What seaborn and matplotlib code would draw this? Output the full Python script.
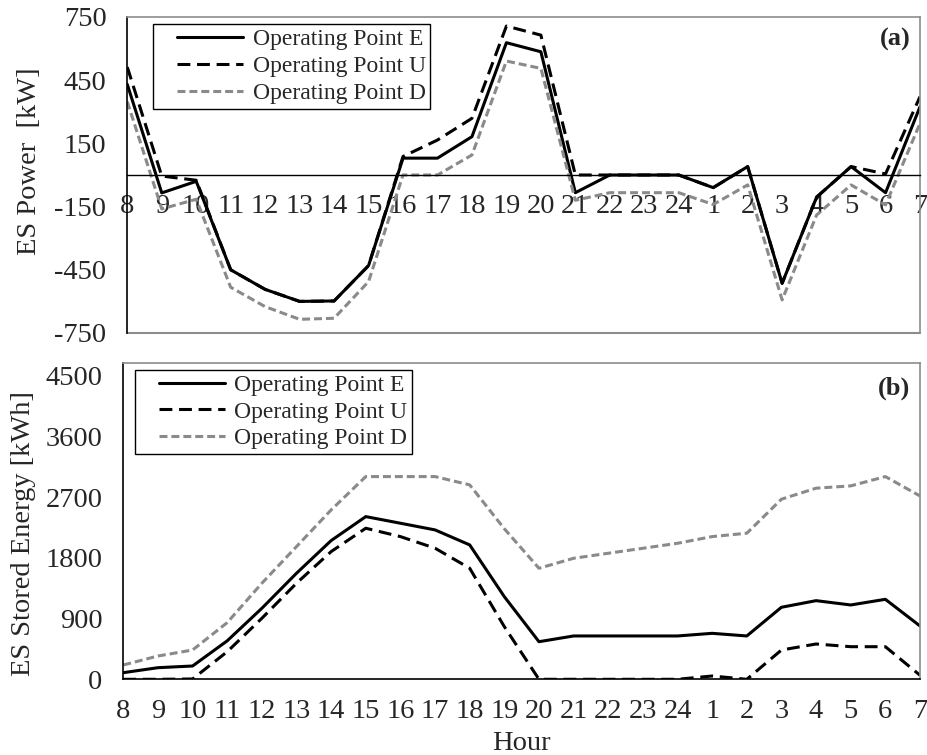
import matplotlib
matplotlib.use("Agg")
import matplotlib.pyplot as plt
from matplotlib.legend_handler import HandlerLine2D
import seaborn as sns
import pandas as pd
import numpy as np

hours = ["8", "9", "10", "11", "12", "13", "14", "15", "16", "17", "18", "19",
         "20", "21", "22", "23", "24", "1", "2", "3", "4", "5", "6", "7"]

# ES power [kW]
power_e = [430, -85, -30, -450, -543, -600, -598, -430, 80, 80, 182, 628,
           585, -84, 0, 0, 0, -60, 40, -514, -105, 40, -84, 324]
power_u = [512, -5, -25, -450, -543, -600, -598, -430, 88, 166, 269, 707,
           664, 0, 0, 0, 0, -60, 40, -514, -105, 40, 5, 372]
power_d = [348, -161, -115, -533, -625, -685, -680, -506, 0, 0, 95, 541,
           506, -120, -84, -84, -84, -140, -47, -593, -190, -47, -142, 245]

# ES stored energy [kWh]
energy_e = [98, 172, 197, 570, 1052, 1571, 2055, 2410, 2312, 2213, 1991, 1224,
            557, 642, 642, 642, 642, 681, 642, 1067, 1165, 1101, 1185, 790]
energy_u = [0, 0, 5, 409, 904, 1423, 1892, 2238, 2114, 1942, 1645, 780,
            0, 0, 0, 0, 0, 49, 0, 434, 523, 483, 483, 60]
energy_d = [212, 345, 434, 840, 1423, 1966, 2509, 3003, 3003, 3003, 2880, 2230,
            1645, 1793, 1867, 1941, 2015, 2114, 2164, 2668, 2831, 2865, 3003, 2716]

names = ["Operating Point E", "Operating Point U", "Operating Point D"]

sns.set_style("white")
plt.rcParams["font.family"] = ["Liberation Serif", "DejaVu Serif"]
plt.rcParams["axes.unicode_minus"] = False

frame_gray = "#8c8c8c"
line_gray = "#8a8a8a"
palette = {names[0]: "black", names[1]: "black", names[2]: line_gray}
dashes = {names[0]: "", names[1]: (4.2, 2.2), names[2]: (2.6, 1.3)}

pos = np.arange(len(hours))


def long_form(series):
    frames = []
    for name, vals in zip(names, series):
        frames.append(pd.DataFrame({"pos": pos, "value": vals, "series": name}))
    return pd.concat(frames, ignore_index=True)


fig = plt.figure(figsize=(9.28, 7.55), dpi=100)
ax1 = fig.add_axes([127.3 / 928, 1 - 333 / 755, 792.7 / 928, 316 / 755])
ax2 = fig.add_axes([123.3 / 928, 1 - 679.3 / 755, 796.7 / 928, 316.6 / 755])

for ax, df, anchor in [(ax1, long_form([power_e, power_u, power_d]), (0.024, 1.0)),
                       (ax2, long_form([energy_e, energy_u, energy_d]), (0.006, 1.0))]:
    sns.lineplot(data=df, x="pos", y="value", hue="series", style="series",
                 palette=palette, dashes=dashes, linewidth=2.2, ax=ax,
                 legend=True)
    ax.set_xlim(0, 23)
    ax.set_xticks(pos)
    ax.set_xticklabels(hours)
    ax.tick_params(axis="x", direction="out", length=7, width=1, color="black",
                   labelsize=20.5, pad=7)
    ax.tick_params(axis="y", length=0, labelsize=20.5, pad=15)
    ax.set_xlabel("")
    for s in ["top", "right"]:
        ax.spines[s].set_color(frame_gray)
        ax.spines[s].set_linewidth(1.2)
    ax.spines["left"].set_color("black")
    ax.spines["left"].set_linewidth(1.2)
    handles, labels = ax.get_legend_handles_labels()
    ax.legend(handles, labels, loc="upper left", bbox_to_anchor=anchor,
              fontsize=17, frameon=True, fancybox=False, edgecolor="black",
              framealpha=1, handlelength=3.6, borderpad=0.2, labelspacing=0.22,
              handletextpad=0.4, borderaxespad=0.3,
              handler_map={h: HandlerLine2D(xpad=0.82) for h in handles})
    ax.get_legend().get_frame().set_linewidth(1.0)

# top panel: power
ax1.set_ylim(-750, 750)
ax1.set_yticks([-750, -450, -150, 150, 450, 750])
ax1.spines["bottom"].set_position(("data", 0))
ax1.spines["bottom"].set_color("black")
ax1.spines["bottom"].set_linewidth(1.0)
ax1.axhline(-750, color=frame_gray, linewidth=1.5, clip_on=False)
ax1.set_ylabel("ES Power  [kW]", fontsize=20.5)
ax1.yaxis.set_label_coords(-0.107, 0.544)
ax1.text(0.988, 0.93, "(a)", transform=ax1.transAxes, ha="right", va="center",
         fontsize=19, fontweight="bold")

# bottom panel: energy
ax2.set_ylim(0, 4690)
ax2.set_yticks([0, 900, 1800, 2700, 3600, 4500])
ax2.spines["bottom"].set_color("black")
ax2.spines["bottom"].set_linewidth(1.2)
ax2.set_ylabel("ES Stored Energy [kWh]", fontsize=20.5)
ax2.yaxis.set_label_coords(-0.109, 0.459)
ax2.text(0.988, 0.92, "(b)", transform=ax2.transAxes, ha="right", va="center",
         fontsize=19, fontweight="bold")
ax2.set_xlabel("Hour", fontsize=20.5, labelpad=5)

fig.savefig("out.png", dpi=100)
